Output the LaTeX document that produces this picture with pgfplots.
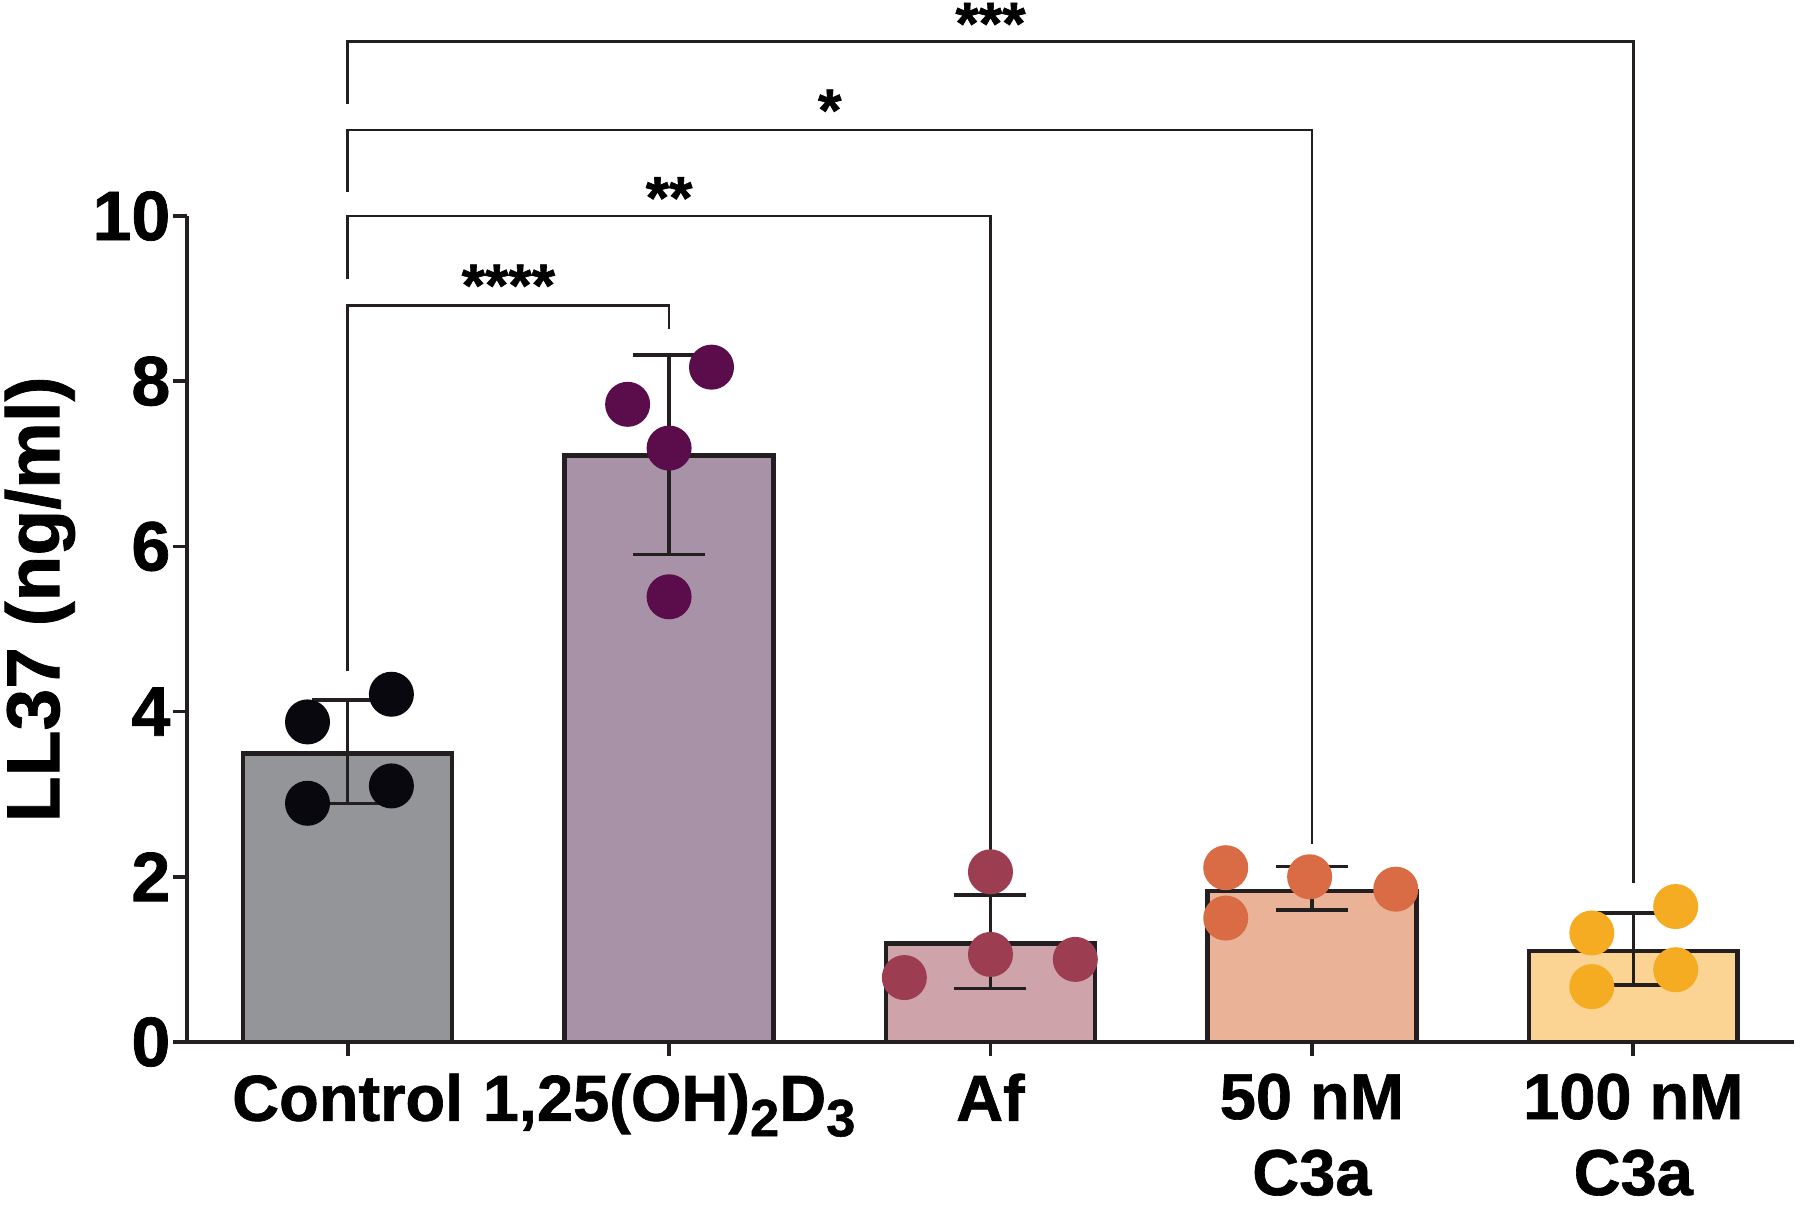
\documentclass[border=0pt]{standalone}
\usepackage{pgfplots}
\pgfplotsset{compat=1.18}
\usepackage{fontspec}
\setmainfont{Liberation Sans}[BoldFeatures={FakeBold=1.0}]
\definecolor{edge}{HTML}{231F20}
\definecolor{ctrlbar}{HTML}{939598}
\definecolor{ctrlpt}{HTML}{08080E}
\definecolor{dbar}{HTML}{A792A8}
\definecolor{dpt}{HTML}{5A0D4A}
\definecolor{afbar}{HTML}{CEA3A9}
\definecolor{afpt}{HTML}{9D3D52}
\definecolor{cfbar}{HTML}{EAB297}
\definecolor{cfpt}{HTML}{D96C44}
\definecolor{chbar}{HTML}{FBD494}
\definecolor{chpt}{HTML}{F5AB22}
\newcommand{\sub}[1]{\raisebox{-0.45ex}{\fontsize{10.5}{10.5}\selectfont #1}}
\begin{document}
\begin{tikzpicture}
\path[use as bounding box] (0,0) rectangle (360pt,241.2pt);
\begin{axis}[
  at={(37.4pt,32.8pt)}, anchor=south west,
  scale only axis, width=321.4pt, height=165.2pt,
  xmin=-0.5, xmax=4.5, ymin=0, ymax=10,
  axis lines=left, axis line style={-, line width=0.75pt, draw=edge},
  clip=false,
  xtick={0,1,2,3,4},
  xticklabels={Control, {1,25(OH)\sub{2}D\sub{3}}, Af, {50 nM\\C3a}, {100 nM\\C3a}},
  xticklabel style={align=center, font=\fontsize{13}{15.2}\selectfont\bfseries},
  ytick={0,2,4,6,8,10},
  yticklabel style={font=\fontsize{14}{14}\selectfont\bfseries, xshift=3pt},
  /pgf/number format/assume math mode=true,
  tick style={line width=0.75pt, draw=edge},
  major tick length=2.8pt,
  tick align=outside,
  ylabel={LL37 (ng/ml)},
  ylabel style={font=\fontsize{15}{16}\selectfont\bfseries, at={(axis description cs:-0.0915,0.536)}, anchor=center},
  errstyle/.style={draw=none, forget plot, error bars/.cd, y dir=both, y explicit,
    error bar style={draw=edge, line width=0.7pt},
    error mark options={draw=edge, line width=0.7pt, mark size=7.2pt, rotate=90}},
  barstyle/.style={ybar, bar width=0.65, bar shift=0pt, draw=edge, line width=0.9pt, forget plot},
  ptstyle/.style={only marks, mark=*, mark size=4.3pt, forget plot, mark options={fill=#1, draw=#1}},
]
% Control
\addplot[barstyle, fill=ctrlbar] coordinates {(0,3.49)};
\addplot[ptstyle=ctrlpt] coordinates {(-0.125,3.875) (0.136,4.21) (-0.125,2.89) (0.136,3.10)};
\addplot[errstyle] coordinates {(0,3.49) += (0,0.65) -= (0,0.60)};
% 1,25(OH)2D3
\addplot[barstyle, fill=dbar] coordinates {(1,7.10)};
\addplot[errstyle] coordinates {(1,7.10) += (0,1.22) -= (0,1.20)};
\addplot[ptstyle=dpt] coordinates {(0.871,7.72) (1.132,8.17) (1,7.19) (1,5.39)};
% Af
\addplot[barstyle, fill=afbar] coordinates {(2,1.19)};
\addplot[ptstyle=afpt] coordinates {(1.732,0.78) (2,2.06) (2,1.06) (2.264,1.00)};
\addplot[errstyle] coordinates {(2,1.19) += (0,0.59) -= (0,0.54)};
% 50 nM C3a
\addplot[barstyle, fill=cfbar] coordinates {(3,1.83)};
\addplot[ptstyle=cfpt] coordinates {(2.732,2.11) (2.732,1.50) (2.993,2.00) (3.261,1.85)};
\addplot[errstyle] coordinates {(3,1.83) += (0,0.295) -= (0,0.23)};
% 100 nM C3a
\addplot[barstyle, fill=chbar] coordinates {(4,1.10)};
\addplot[ptstyle=chpt] coordinates {(3.871,1.32) (3.871,0.67) (4.132,1.64) (4.132,0.875)};
\addplot[errstyle] coordinates {(4,1.10) += (0,0.46) -= (0,0.41)};
% significance brackets
\draw[line width=0.55pt, edge] (axis cs:0,4.49) -- (axis cs:0,8.92) -- (axis cs:1,8.92) -- (axis cs:1,8.63);
\draw[line width=0.55pt, edge] (axis cs:0,9.24) -- (axis cs:0,10.0) -- (axis cs:2,10.0) -- (axis cs:2,2.33);
\draw[line width=0.55pt, edge] (axis cs:0,10.29) -- (axis cs:0,11.04) -- (axis cs:3,11.04) -- (axis cs:3,2.40);
\draw[line width=0.55pt, edge] (axis cs:0,11.36) -- (axis cs:0,12.11) -- (axis cs:4,12.11) -- (axis cs:4,1.92);
\begin{scope}[every node/.style={font=\fontsize{12}{12}\selectfont\bfseries, anchor=base, inner sep=0pt, yshift=-6.1pt}]
\node at (axis cs:0.5,9.28) {****};
\node at (axis cs:1,10.34) {**};
\node at (axis cs:1.5,11.40) {*};
\node at (axis cs:2,12.45) {***};
\end{scope}
\end{axis}
\end{tikzpicture}
\end{document}
